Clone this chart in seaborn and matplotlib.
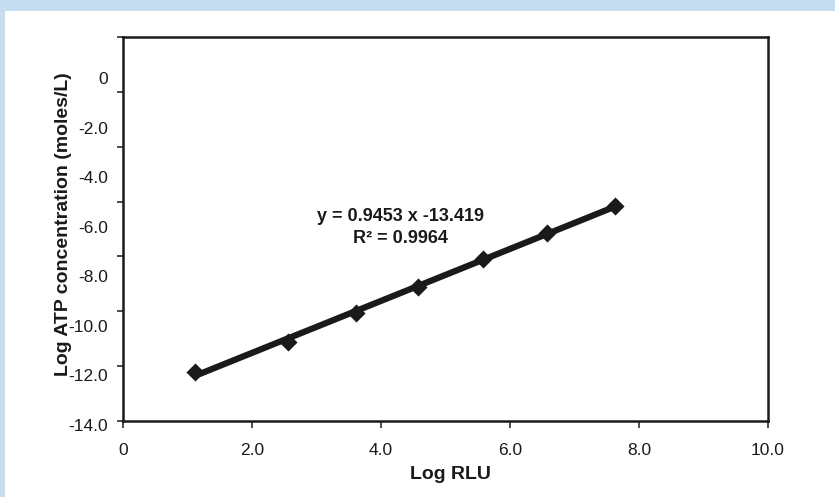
import matplotlib
matplotlib.use("Agg")
import matplotlib.pyplot as plt
from matplotlib.patches import Rectangle
import pandas as pd
import seaborn as sns

# ─── Data ────────────────────────────────────────────────────
log_rlu = [1.12, 2.56, 3.61, 4.57, 5.58, 6.57, 7.63]
log_atp = [-12.20, -11.11, -10.07, -9.12, -8.11, -7.13, -6.16]

x_ticks = [0, 2, 4, 6, 8, 10]
x_tick_labels = ["0", "2.0", "4.0", "6.0", "8.0", "10.0"]
y_ticks = [-14, -12, -10, -8, -6, -4, -2, 0]
y_tick_labels = ["-14.0", "-12.0", "-10.0", "-8.0", "-6.0", "-4.0", "-2.0", "0"]

equation_text = "y = 0.9453 x -13.419"
r2_text = "R² = 0.9964"

# ─── Style ───────────────────────────────────────────────────
sns.set_theme(style="ticks")
plt.rcParams.update({
    "font.family": ["Liberation Sans", "DejaVu Sans"],
    "axes.edgecolor": "#1a1a1a",
    "axes.linewidth": 1.8,
    "xtick.color": "#1a1a1a",
    "ytick.color": "#1a1a1a",
})

INK = "#1a1a1a"
FRAME_BLUE = "#c6dcef"

df = pd.DataFrame({"log_rlu": log_rlu, "log_atp": log_atp})

fig = plt.figure(figsize=(8.35, 4.97), dpi=100)
fig.add_artist(Rectangle((0, 1 - 11 / 497), 1, 11 / 497, transform=fig.transFigure,
                         facecolor=FRAME_BLUE, edgecolor="none", zorder=0))
fig.add_artist(Rectangle((0, 0), 5 / 835, 1, transform=fig.transFigure,
                         facecolor=FRAME_BLUE, edgecolor="none", zorder=0))

ax = fig.add_axes([0.1473, 0.1529, 0.7725, 0.7727])

sns.regplot(data=df, x="log_rlu", y="log_atp", ci=None, marker="D", color=INK,
            scatter_kws=dict(s=85, alpha=1, linewidths=0, zorder=3),
            line_kws=dict(lw=4.5, solid_capstyle="butt", zorder=2), ax=ax)

ax.set_xlim(0, 10)
ax.set_ylim(-14, 0)
ax.set_xticks(x_ticks)
ax.set_xticklabels(x_tick_labels, fontsize=12.5)
ax.set_yticks(y_ticks)
ax.tick_params(axis="x", length=5, width=1.1, pad=11)
ax.tick_params(axis="y", length=4.5, width=1.1, labelleft=False)

# y labels sit a little off their tick marks in the original
for i, lab in enumerate(y_tick_labels):
    ax.text(-0.023, -14.2 + i * 1.805, lab, transform=ax.get_yaxis_transform(),
            ha="right", va="center", fontsize=12.5, color=INK, clip_on=False)

ax.set_xlabel("Log RLU", fontsize=14, fontweight="bold", color=INK)
ax.xaxis.set_label_coords(0.507, -0.138)
ax.xaxis.label.set_va("center")
ax.set_ylabel("Log ATP concentration (moles/L)", fontsize=14, fontweight="bold", color=INK)
ax.yaxis.set_label_coords(-0.092, 0.513)
ax.yaxis.label.set_va("center")

ax.text(0.4295, 0.521, equation_text, transform=ax.transAxes, ha="center",
        va="baseline", fontsize=13, fontweight="bold", color=INK)
ax.text(0.4295, 0.4635, r2_text, transform=ax.transAxes, ha="center",
        va="baseline", fontsize=13, fontweight="bold", color=INK)

fig.savefig("out.png", dpi=100)
plt.close(fig)
